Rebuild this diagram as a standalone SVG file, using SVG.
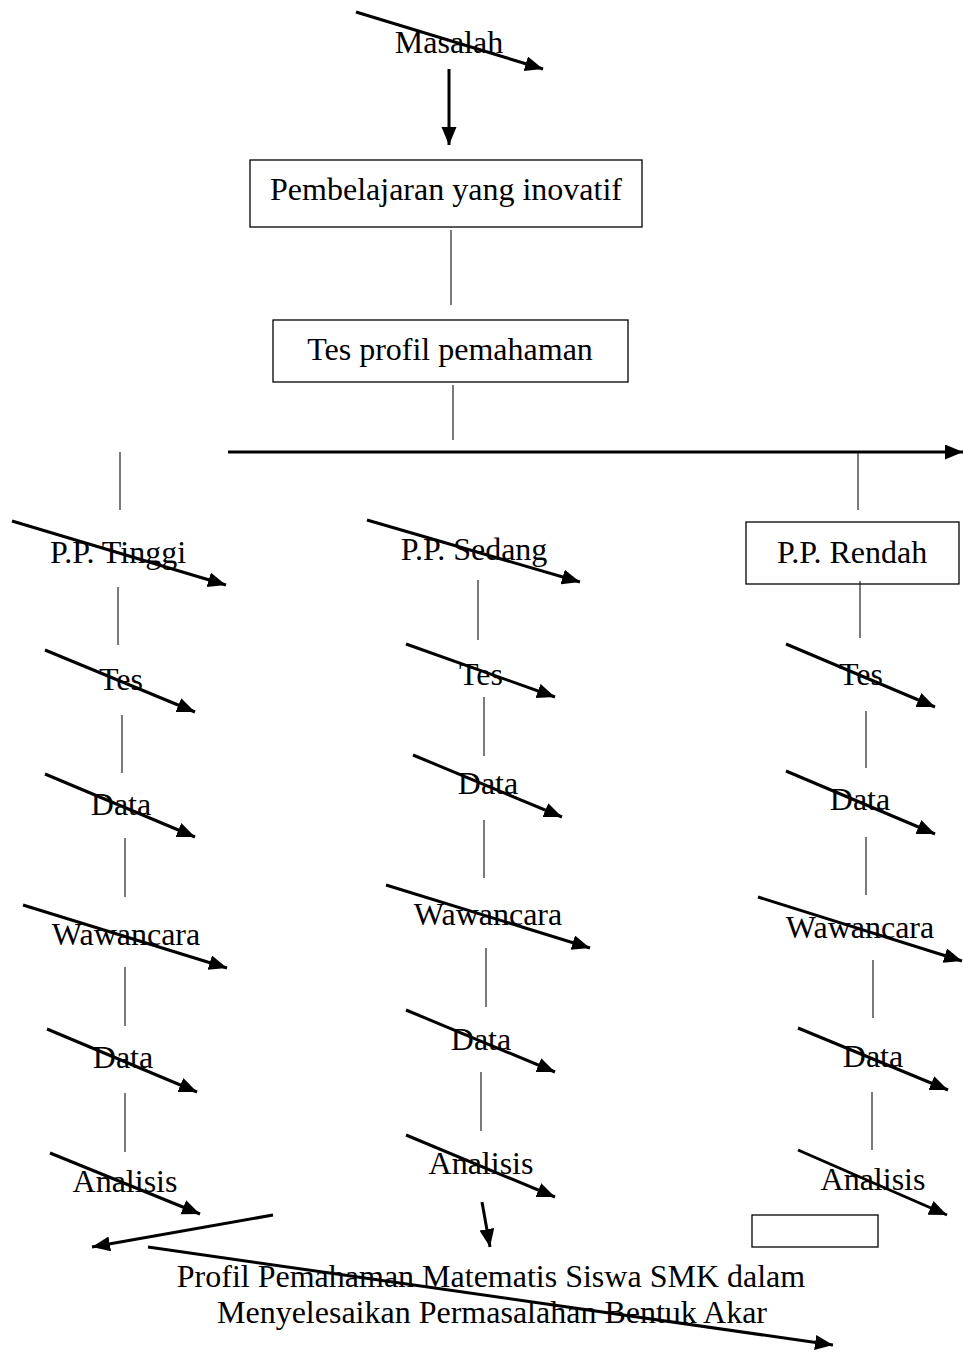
<svg xmlns="http://www.w3.org/2000/svg" width="963" height="1353" viewBox="0 0 963 1353">
<style>
text{font-family:"Liberation Serif","Times New Roman",serif;font-size:32px;fill:#000;text-anchor:middle}
.box{fill:#fff;stroke:#000;stroke-width:1.3}
.arr{stroke:#000;stroke-width:3;fill:none;marker-end:url(#ah)}
.thin{stroke:#222;stroke-width:1.2;fill:none}
</style>
<defs>
<marker id="ah" markerUnits="userSpaceOnUse" markerWidth="20" markerHeight="16" refX="18" refY="7.5" orient="auto">
<path d="M0,0 L18,7.5 L0,15 z" fill="#000"/>
</marker>
</defs>
<rect width="963" height="1353" fill="#fff"/>
<g id="nodes">
<g id="masalah"><text x="449" y="53">Masalah</text></g>
<g id="pembelajaran"><rect class="box" x="250" y="160" width="392" height="67"/><text x="446" y="200">Pembelajaran yang inovatif</text></g>
<g id="tes-profil"><rect class="box" x="273" y="320" width="355" height="62"/><text x="450" y="360">Tes profil pemahaman</text></g>
<g id="pp-tinggi"><text x="118" y="563">P.P. Tinggi</text></g>
<g id="pp-sedang"><text x="474" y="560">P.P. Sedang</text></g>
<g id="pp-rendah"><rect class="box" x="746" y="522" width="213" height="62"/><text x="852" y="563">P.P. Rendah</text></g>
<g id="t-tes"><text x="121" y="690">Tes</text></g>
<g id="t-data1"><text x="121" y="815">Data</text></g>
<g id="t-wawancara"><text x="126" y="945">Wawancara</text></g>
<g id="t-data2"><text x="123" y="1068">Data</text></g>
<g id="t-analisis"><text x="125" y="1192">Analisis</text></g>
<g id="s-tes"><text x="481" y="685">Tes</text></g>
<g id="s-data1"><text x="488" y="794">Data</text></g>
<g id="s-wawancara"><text x="488" y="925">Wawancara</text></g>
<g id="s-data2"><text x="481" y="1050">Data</text></g>
<g id="s-analisis"><text x="481" y="1174">Analisis</text></g>
<g id="r-tes"><text x="861" y="685">Tes</text></g>
<g id="r-data1"><text x="860" y="810">Data</text></g>
<g id="r-wawancara"><text x="860" y="938">Wawancara</text></g>
<g id="r-data2"><text x="873" y="1067">Data</text></g>
<g id="r-analisis"><text x="873" y="1190">Analisis</text></g>
<g id="empty-box"><rect class="box" x="752" y="1215" width="126" height="32"/></g>
<g id="profil"><text x="491" y="1287">Profil Pemahaman Matematis Siswa SMK dalam</text><text x="492" y="1323">Menyelesaikan Permasalahan Bentuk Akar</text></g>
</g>
<g id="connectors">
<line class="arr" x1="356" y1="12" x2="543" y2="69"/>
<line class="arr" x1="449" y1="69" x2="449" y2="145"/>
<line class="thin" x1="451" y1="230" x2="451" y2="305"/>
<line class="thin" x1="453" y1="385" x2="453" y2="440"/>
<line class="arr" x1="228" y1="452" x2="963" y2="452"/>
<line class="thin" x1="858" y1="453" x2="858" y2="510"/>
<line class="thin" x1="120" y1="452" x2="120" y2="510"/>
<line class="arr" x1="12" y1="521" x2="226" y2="585"/>
<line class="arr" x1="367" y1="520" x2="580" y2="582"/>
<line class="thin" x1="860" y1="581" x2="860" y2="638"/>
<line class="thin" x1="118" y1="587" x2="118" y2="645"/>
<line class="arr" x1="45" y1="650" x2="195" y2="712"/>
<line class="thin" x1="122" y1="715" x2="122" y2="773"/>
<line class="arr" x1="45" y1="774" x2="195" y2="837"/>
<line class="thin" x1="125" y1="838" x2="125" y2="897"/>
<line class="arr" x1="23" y1="905" x2="227" y2="968"/>
<line class="thin" x1="125" y1="967" x2="125" y2="1026"/>
<line class="arr" x1="47" y1="1029" x2="197" y2="1092"/>
<line class="thin" x1="125" y1="1093" x2="125" y2="1152"/>
<line class="arr" x1="50" y1="1153" x2="200" y2="1214"/>
<line class="thin" x1="478" y1="580" x2="478" y2="640"/>
<line class="arr" x1="406" y1="644" x2="555" y2="697"/>
<line class="thin" x1="484" y1="697" x2="484" y2="756"/>
<line class="arr" x1="413" y1="755" x2="562" y2="817"/>
<line class="thin" x1="484" y1="820" x2="484" y2="878"/>
<line class="arr" x1="386" y1="885" x2="590" y2="948"/>
<line class="thin" x1="486" y1="948" x2="486" y2="1007"/>
<line class="arr" x1="406" y1="1010" x2="555" y2="1072"/>
<line class="thin" x1="481" y1="1072" x2="481" y2="1131"/>
<line class="arr" x1="406" y1="1135" x2="555" y2="1197"/>
<line class="arr" x1="482" y1="1202" x2="490" y2="1247"/>
<line class="arr" x1="786" y1="644" x2="935" y2="707"/>
<line class="thin" x1="866" y1="711" x2="866" y2="768"/>
<line class="arr" x1="786" y1="771" x2="935" y2="834"/>
<line class="thin" x1="866" y1="837" x2="866" y2="895"/>
<line class="arr" x1="758" y1="897" x2="962" y2="961"/>
<line class="thin" x1="873" y1="960" x2="873" y2="1018"/>
<line class="arr" x1="798" y1="1028" x2="948" y2="1090"/>
<line class="thin" x1="872" y1="1092" x2="872" y2="1150"/>
<line class="arr" x1="798" y1="1150" x2="947" y2="1215"/>
<line class="arr" x1="273" y1="1215" x2="92" y2="1247"/>
<line class="arr" x1="148" y1="1247" x2="833" y2="1345"/>
</g>
</svg>
